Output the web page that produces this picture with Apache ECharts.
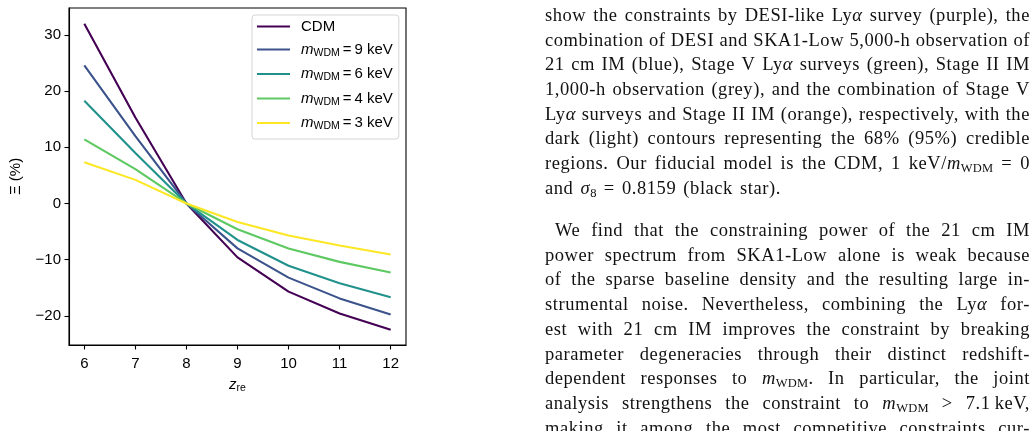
<!DOCTYPE html>
<html>
<head>
<meta charset="utf-8">
<script src="https://cdn.jsdelivr.net/npm/echarts@6/dist/echarts.min.js"></script>
<style>
  html, body { margin: 0; padding: 0; background: #fff; }
  #wrap { position: relative; width: 1036px; height: 431px; overflow: hidden; }
  #chart { position: absolute; left: 0; top: 0; width: 1036px; height: 431px; }
  #text { position: absolute; left: 545px; top: 0; width: 485px; height: 431px; font-family: 'Liberation Serif', 'Times New Roman', serif; font-size: 18.5px; letter-spacing: 0.55px; color: #111; }
  .ln { position: absolute; left: 0; width: 485px; height: 24px; line-height: 24px; white-space: nowrap; word-spacing: 2px; }
  .just { display: flex; justify-content: space-between; }
  .ln sub { font-size: 12.5px; vertical-align: -3px; line-height: 0; letter-spacing: 0.2px; }
  .ln i { font-style: italic; }
</style>
</head>
<body>
<div id="wrap">
  <div id="chart"></div>
  <div id="text"></div>
</div>
<script>
// ---- chart data ----
const zre = [6, 7, 8, 9, 10, 11, 12];
const xiCDM = [32.0, 15.3, 0, -9.6, -15.7, -19.6, -22.5];
const xi9keV = [24.6, 12.0, 0, -8.0, -13.2, -16.9, -19.75];
const xi6keV = [18.3, 9.0, 0, -6.5, -11.1, -14.2, -16.7];
const xi4keV = [11.4, 6.1, 0, -4.6, -8.0, -10.4, -12.3];
const xi3keV = [7.35, 4.2, 0, -3.3, -5.7, -7.5, -9.1];
const seriesNames = ['CDM', 'm_WDM = 9 keV', 'm_WDM = 6 keV', 'm_WDM = 4 keV', 'm_WDM = 3 keV'];
const seriesColors = ['#440154', '#3b528b', '#21918c', '#5ec962', '#fde725'];
const xTickValues = [6, 7, 8, 9, 10, 11, 12];
const yTickValues = [-20, -10, 0, 10, 20, 30];

// ---- paragraph text lines (right side) ----
const para1 = [
  'show the constraints by DESI-like Ly<i>α</i> survey (purple), the',
  'combination of DESI and SKA1-Low 5,000-h observation of',
  '21 cm IM (blue), Stage V Ly<i>α</i> surveys (green), Stage II IM',
  '1,000-h observation (grey), and the combination of Stage V',
  'Ly<i>α</i> surveys and Stage II IM (orange), respectively, with the',
  'dark (light) contours representing the 68% (95%) credible',
  'regions. Our fiducial model is the CDM, 1 keV/<i>m</i><sub>WDM</sub> = 0'
];
const para1Last = 'and <i>σ</i><sub>8</sub> = 0.8159 (black star).';
const para2 = [
  'We find that the constraining power of the 21 cm IM',
  'power spectrum from SKA1-Low alone is weak because',
  'of the sparse baseline density and the resulting large in-',
  'strumental noise. Nevertheless, combining the Ly<i>α</i> for-',
  'est with 21 cm IM improves the constraint by breaking',
  'parameter degeneracies through their distinct redshift-',
  'dependent responses to <i>m</i><sub>WDM</sub>. In particular, the joint',
  'analysis strengthens the constraint to <i>m</i><sub>WDM</sub> &gt; 7.1&#8201;keV,',
  'making it among the most competitive constraints cur-'
];

(function buildText() {
  const box = document.getElementById('text');
  function addLine(html, top, justify, indent) {
    const d = document.createElement('div');
    d.className = 'ln' + (justify ? ' just' : '');
    d.style.top = top + 'px';
    if (indent) { d.style.left = indent + 'px'; d.style.width = (485 - indent) + 'px'; }
    if (justify) {
      d.innerHTML = html.split(' ').map(w => '<span>' + w + '</span>').join('');
    } else {
      d.innerHTML = html;
    }
    box.appendChild(d);
  }
  const p1Centers = [15, 39.6, 64.3, 89, 113.7, 138.4, 163.1];
  para1.forEach((l, i) => addLine(l, p1Centers[i] - 12, true, 0));
  addLine(para1Last, 187.8 - 12, false, 0);
  const p2Start = 230;
  para2.forEach((l, i) => addLine(l, p2Start + i * 24.7 - 12, true, i === 0 ? 10 : 0));
})();

// ---- chart ----
const chart = echarts.init(document.getElementById('chart'), null, { renderer: 'canvas' });
const allSeries = [xiCDM, xi9keV, xi6keV, xi4keV, xi3keV];
const FONT = "'Liberation Sans', Arial, sans-serif";

function legendFmt(name) {
  if (name.indexOf('m_WDM') === 0) {
    const rest = name.replace('m_WDM = ', '');
    return '{m|m}{s|WDM}{t|\u2009=\u2009' + rest + '}';
  }
  return '{t|' + name + '}';
}

const axisLineStyle = { color: '#000', width: 1.1 };

chart.setOption({
  animation: false,
  grid: {
    left: 69, top: 8, width: 337, height: 337,
    show: true, borderColor: '#000', borderWidth: 1.1, backgroundColor: 'transparent',
    containLabel: false, outerBoundsMode: 'none'
  },
  legend: {
    orient: 'vertical',
    left: 252, top: 15,
    padding: [4, 6, 7, 5],
    icon: 'rect',
    itemWidth: 33, itemHeight: 2.2, itemGap: 8,
    backgroundColor: '#fff',
    borderColor: '#d5d5d5', borderWidth: 1, borderRadius: 3,
    data: seriesNames,
    formatter: legendFmt,
    textStyle: {
      color: '#000', fontFamily: FONT, fontSize: 15,
      padding: [0, 0, 0, 6],
      rich: {
        t: { fontSize: 15, fontFamily: FONT, color: '#000', lineHeight: 18 },
        m: { fontSize: 15, fontFamily: FONT, fontStyle: 'italic', color: '#000', lineHeight: 18 },
        s: { fontSize: 10.5, fontFamily: FONT, color: '#000', lineHeight: 10, verticalAlign: 'bottom', padding: [0, 0, 0, 0] }
      }
    }
  },
  xAxis: {
    type: 'value', min: 5.7, max: 12.3,
    splitLine: { show: false },
    axisLine: { show: true, onZero: false, lineStyle: axisLineStyle },
    axisTick: { show: true, inside: false, length: 4.5, lineStyle: axisLineStyle, customValues: xTickValues },
    axisLabel: { color: '#000', fontFamily: FONT, fontSize: 15, margin: 11, customValues: xTickValues, formatter: v => String(v) },
    name: '{i|z}{s|re}',
    nameLocation: 'middle', nameGap: 31,
    nameTextStyle: {
      rich: {
        i: { fontSize: 15, fontFamily: FONT, fontStyle: 'italic', color: '#000', lineHeight: 18 },
        s: { fontSize: 10.5, fontFamily: FONT, color: '#000', lineHeight: 10, verticalAlign: 'bottom' }
      }
    }
  },
  yAxis: {
    type: 'value', min: -25.2, max: 34.8,
    splitLine: { show: false },
    axisLine: { show: true, onZero: false, lineStyle: axisLineStyle },
    axisTick: { show: true, inside: false, length: 4.5, lineStyle: axisLineStyle, customValues: yTickValues },
    axisLabel: { color: '#000', fontFamily: FONT, fontSize: 15, margin: 8, customValues: yTickValues,
      formatter: v => (v < 0 ? '\u2212' + Math.abs(v) : String(v)) },
    name: 'Ξ (%)',
    nameLocation: 'middle', nameRotate: 90, nameGap: 46,
    nameTextStyle: { color: '#000', fontFamily: FONT, fontSize: 15 }
  },
  series: allSeries.map((arr, k) => ({
    type: 'line',
    name: seriesNames[k],
    data: zre.map((x, i) => [x, arr[i]]),
    symbol: 'none',
    showSymbol: false,
    lineStyle: { color: seriesColors[k], width: 2.1 },
    itemStyle: { color: seriesColors[k] },
    z: 2 + k
  }))
});
</script>
</body>
</html>
